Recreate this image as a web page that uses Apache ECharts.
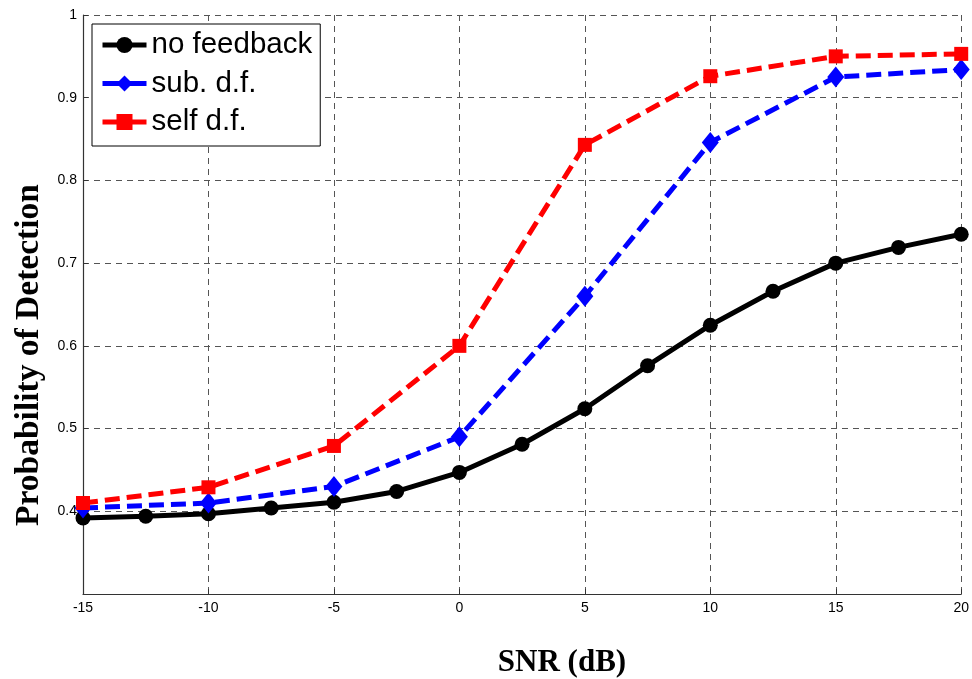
<!DOCTYPE html>
<html>
<head>
<meta charset="utf-8">
<script src="https://cdn.jsdelivr.net/npm/echarts@6/dist/echarts.min.js"></script>
<style>
  html, body { margin: 0; padding: 0; background: #fff; }
  #chart { width: 972px; height: 679px; }
</style>
</head>
<body>
<div id="chart"></div>
<script>
// SNR grid (dB) for the baseline detector and for the two feedback schemes
const snrFine = [-15, -12.5, -10, -7.5, -5, -2.5, 0, 2.5, 5, 7.5, 10, 12.5, 15, 17.5, 20];
const snrCoarse = [-15, -10, -5, 0, 5, 10, 15, 20];

// Probability of detection per scheme
const noFeedback = [0.392, 0.394, 0.397, 0.404, 0.411, 0.424, 0.447, 0.481, 0.524, 0.576, 0.625, 0.666, 0.700, 0.719, 0.735];
const subDf = [0.404, 0.410, 0.430, 0.490, 0.660, 0.846, 0.925, 0.934];
const selfDf = [0.410, 0.429, 0.479, 0.600, 0.843, 0.926, 0.950, 0.953];

const seriesNames = ['no feedback', 'sub. d.f.', 'self d.f.'];

const pairs = (xs, ys) => xs.map((x, i) => [x, ys[i]]);

const gridLine = { show: true, lineStyle: { color: '#555', width: 1, type: [6, 5] } };
const tickFont = { color: '#000', fontSize: 14, fontFamily: 'Liberation Sans, Arial, sans-serif' };
const frameLine = { show: true, onZero: false, lineStyle: { color: '#333', width: 1.2 } };

const chart = echarts.init(document.getElementById('chart'), null, { renderer: 'canvas' });

chart.setOption({
  animation: false,
  backgroundColor: '#fff',
  grid: { left: 83, right: 10, top: 15, bottom: 85, containLabel: false },
  xAxis: {
    type: 'value',
    min: -15, max: 20, interval: 5,
    axisLine: frameLine,
    axisTick: { show: true, inside: true, length: 5, lineStyle: { color: '#333' } },
    axisLabel: Object.assign({ margin: 7 }, tickFont),
    splitLine: gridLine
  },
  yAxis: {
    type: 'value',
    min: 0.3, max: 1, interval: 0.1,
    axisLine: frameLine,
    axisTick: { show: true, inside: true, length: 5, lineStyle: { color: '#333' } },
    axisLabel: Object.assign({
      margin: 6,
      formatter: v => (v < 0.35 ? '' : String(+v.toFixed(1)))
    }, tickFont),
    splitLine: gridLine
  },
  legend: {
    orient: 'vertical',
    left: 92, top: 24,
    padding: [6, 8, 9, 8],
    itemGap: 8.5,
    itemWidth: 44,
    itemHeight: 20,
    backgroundColor: '#fff',
    borderColor: '#000',
    borderWidth: 1,
    borderRadius: 0,
    data: seriesNames,
    lineStyle: { type: 'solid', width: 5 },
    textStyle: { color: '#000', fontSize: 29.5, lineHeight: 30, fontFamily: 'Liberation Sans, Arial, sans-serif' }
  },
  graphic: [
    {
      type: 'text',
      x: 562, y: 663,
      style: {
        text: 'SNR (dB)', align: 'center', verticalAlign: 'middle',
        font: 'bold 31px "Liberation Serif", "Times New Roman", serif', fill: '#000'
      }
    },
    {
      type: 'text',
      x: 29, y: 355,
      rotation: Math.PI / 2,
      style: {
        text: 'Probability of Detection', align: 'center', verticalAlign: 'middle',
        font: 'bold 33.5px "Liberation Serif", "Times New Roman", serif', fill: '#000'
      }
    }
  ],
  series: [
    {
      name: seriesNames[0],
      type: 'line',
      data: pairs(snrFine, noFeedback),
      symbol: 'circle', symbolSize: 15,
      lineStyle: { color: '#000', width: 5 },
      itemStyle: { color: '#000' }
    },
    {
      name: seriesNames[1],
      type: 'line',
      data: pairs(snrCoarse, subDf),
      symbol: 'diamond', symbolSize: [17, 21],
      lineStyle: { color: '#0000ff', width: 5, type: [15, 7] },
      itemStyle: { color: '#0000ff' }
    },
    {
      name: seriesNames[2],
      type: 'line',
      data: pairs(snrCoarse, selfDf),
      symbol: 'rect', symbolSize: 14,
      lineStyle: { color: '#ff0000', width: 5, type: [15, 7] },
      itemStyle: { color: '#ff0000' }
    }
  ]
});
</script>
</body>
</html>
